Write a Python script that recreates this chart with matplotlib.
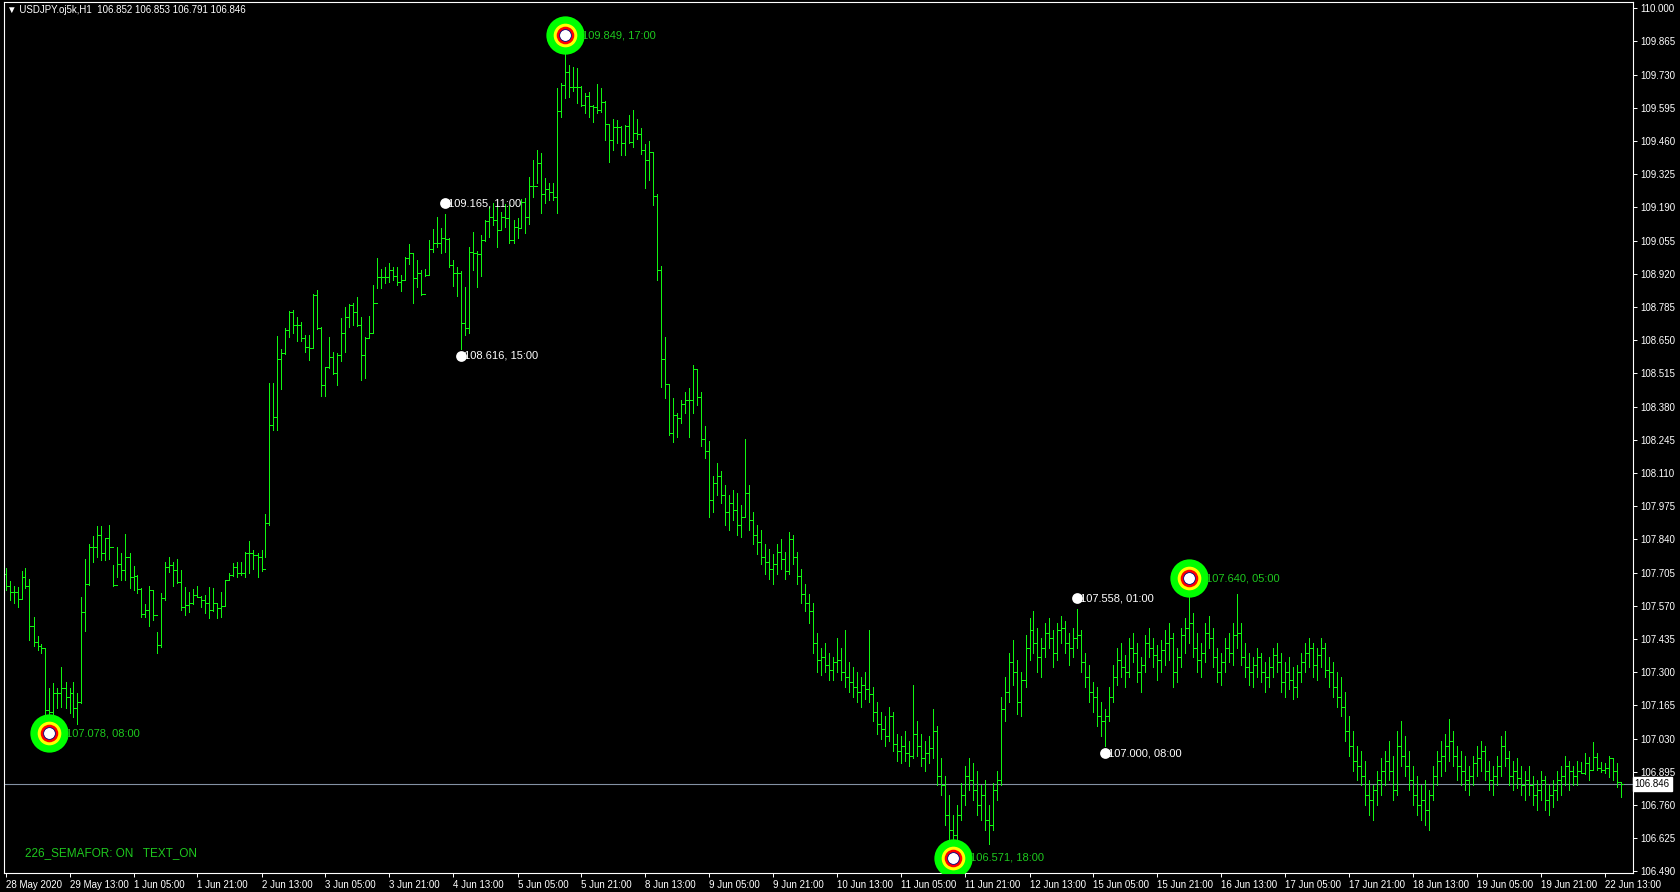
import matplotlib
matplotlib.use("Agg")
import matplotlib.pyplot as plt
import numpy as np

# USDJPY H1 bars, index 0 = 28 May 2020 21:00
highs = [107.722, 107.671, 107.651, 107.645, 107.711, 107.722, 107.678, 107.523, 107.447, 107.415,
         107.397, 107.235, 107.255, 107.235, 107.323, 107.262, 107.235, 107.262, 107.217, 107.607,
         107.759, 107.820, 107.854, 107.894, 107.894, 107.847, 107.898, 107.736, 107.810, 107.783,
         107.862, 107.786, 107.732, 107.695, 107.641, 107.577, 107.651, 107.634, 107.465, 107.623,
         107.749, 107.767, 107.749, 107.759, 107.715, 107.645, 107.626, 107.637, 107.651, 107.610,
         107.614, 107.645, 107.641, 107.577, 107.628, 107.675, 107.705, 107.745, 107.749, 107.749,
         107.790, 107.835, 107.797, 107.786, 107.797, 107.945, 108.475, 108.478, 108.667, 108.613,
         108.698, 108.770, 108.773, 108.746, 108.726, 108.672, 108.672, 108.838, 108.854, 108.705,
         108.543, 108.665, 108.604, 108.597, 108.739, 108.787, 108.797, 108.803, 108.827, 108.746,
         108.665, 108.749, 108.875, 108.983, 108.938, 108.949, 108.963, 108.949, 108.947, 108.915,
         108.990, 109.041, 109.004, 108.976, 108.936, 108.938, 109.058, 109.101, 109.153, 109.105,
         109.165, 109.064, 108.976, 108.949, 108.933, 108.865, 109.031, 109.092, 109.014, 109.078,
         109.139, 109.191, 109.207, 109.193, 109.173, 109.204, 109.200, 109.139, 109.146, 109.223,
         109.227, 109.315, 109.383, 109.424, 109.413, 109.308, 109.291, 109.291, 109.674, 109.698,
         109.849, 109.769, 109.760, 109.756, 109.684, 109.654, 109.661, 109.607, 109.692, 109.674,
         109.624, 109.525, 109.548, 109.546, 109.521, 109.525, 109.566, 109.586, 109.548, 109.512,
         109.448, 109.462, 109.417, 109.245, 108.952, 108.665, 108.472, 108.414, 108.353, 108.407,
         108.441, 108.455, 108.549, 108.532, 108.44, 108.30, 108.24, 108.10, 108.15, 108.12,
         108.06, 108.02, 108.04, 108.03, 107.98, 108.25, 108.06, 107.95, 107.90, 107.88,
         107.82, 107.80, 107.78, 107.82, 107.84, 107.79, 107.87, 107.86, 107.79, 107.72,
         107.66, 107.62, 107.58, 107.46, 107.40, 107.42, 107.38, 107.36, 107.44, 107.40,
         107.47, 107.34, 107.32, 107.30, 107.28, 107.30, 107.47, 107.24, 107.18, 107.14,
         107.12, 107.16, 107.14, 107.05, 107.04, 107.06, 107.02, 107.25, 107.10, 107.05,
         107.02, 107.04, 107.15, 107.08, 106.95, 106.88, 106.80, 106.72, 106.76, 106.85,
         106.92, 106.95, 106.93, 106.90, 106.84, 106.86, 106.76, 106.85, 106.90, 107.20,
         107.28, 107.38, 107.43, 107.35, 107.30, 107.45, 107.52, 107.55, 107.48, 107.44,
         107.50, 107.52, 107.47, 107.50, 107.53, 107.51, 107.46, 107.48, 107.558, 107.47,
         107.38, 107.33, 107.26, 107.24, 107.18, 107.15, 107.24, 107.33, 107.40, 107.42,
         107.37, 107.44, 107.46, 107.42, 107.36, 107.45, 107.48, 107.44, 107.41, 107.43,
         107.47, 107.50, 107.46, 107.40, 107.48, 107.52, 107.640, 107.54, 107.46, 107.42,
         107.50, 107.53, 107.48, 107.40, 107.38, 107.44, 107.46, 107.50, 107.62, 107.50,
         107.42, 107.38, 107.36, 107.40, 107.38, 107.34, 107.36, 107.40, 107.42, 107.38,
         107.34, 107.36, 107.32, 107.33, 107.38, 107.42, 107.44, 107.42, 107.40, 107.44,
         107.42, 107.36, 107.34, 107.30, 107.28, 107.22, 107.12, 107.06, 107.00, 106.98,
         106.94, 106.86, 106.84, 106.90, 106.95, 106.98, 107.02, 106.96, 107.06, 107.10,
         107.04, 106.98, 106.92, 106.88, 106.84, 106.86, 106.82, 106.92, 106.98, 107.02,
         107.05, 107.11, 107.06, 107.00, 106.98, 106.96, 106.92, 106.96, 107.00, 107.02,
         107.00, 106.94, 106.92, 106.96, 107.04, 107.06, 106.98, 106.94, 106.95, 106.92,
         106.90, 106.92, 106.88, 106.86, 106.90, 106.88, 106.84, 106.86, 106.90, 106.92,
         106.96, 106.94, 106.92, 106.94, 106.936, 106.970, 106.957, 107.018, 106.970, 106.936,
         106.929, 106.960, 106.950, 106.929, 106.853]
lows = [107.634, 107.594, 107.580, 107.564, 107.596, 107.641, 107.431, 107.407, 107.390, 107.380,
        107.110, 107.078, 107.100, 107.153, 107.160, 107.153, 107.133, 107.119, 107.090, 107.174,
        107.469, 107.655, 107.749, 107.770, 107.756, 107.756, 107.759, 107.651, 107.688, 107.675,
        107.675, 107.641, 107.634, 107.621, 107.523, 107.526, 107.488, 107.512, 107.380, 107.404,
        107.594, 107.709, 107.651, 107.661, 107.553, 107.533, 107.546, 107.577, 107.607, 107.567,
        107.539, 107.519, 107.550, 107.519, 107.526, 107.569, 107.675, 107.691, 107.686, 107.695,
        107.688, 107.705, 107.718, 107.686, 107.713, 107.770, 107.898, 108.285, 108.285, 108.450,
        108.594, 108.662, 108.678, 108.648, 108.648, 108.604, 108.570, 108.617, 108.695, 108.423,
        108.423, 108.536, 108.513, 108.468, 108.567, 108.604, 108.703, 108.712, 108.708, 108.488,
        108.495, 108.658, 108.678, 108.861, 108.861, 108.882, 108.888, 108.895, 108.875, 108.852,
        108.895, 108.960, 108.803, 108.868, 108.834, 108.911, 108.915, 109.010, 109.028, 109.006,
        109.010, 108.949, 108.871, 108.830, 108.616, 108.671, 108.681, 108.936, 108.865, 108.911,
        109.055, 109.071, 109.119, 109.031, 109.098, 109.112, 109.044, 109.047, 109.064, 109.112,
        109.088, 109.123, 109.234, 109.288, 109.169, 109.207, 109.220, 109.220, 109.166, 109.559,
        109.634, 109.638, 109.665, 109.616, 109.603, 109.576, 109.557, 109.539, 109.576, 109.580,
        109.464, 109.376, 109.424, 109.454, 109.403, 109.403, 109.454, 109.435, 109.467, 109.407,
        109.268, 109.302, 109.200, 108.895, 108.461, 108.414, 108.265, 108.238, 108.258, 108.315,
        108.353, 108.255, 108.353, 108.387, 108.22, 108.17, 107.93, 107.95, 108.02, 107.99,
        107.90, 107.88, 107.92, 107.86, 107.85, 107.93, 107.88, 107.82, 107.78, 107.74,
        107.70, 107.68, 107.66, 107.70, 107.72, 107.68, 107.70, 107.74, 107.66, 107.58,
        107.55, 107.50, 107.38, 107.30, 107.29, 107.30, 107.27, 107.27, 107.30, 107.27,
        107.24, 107.22, 107.20, 107.18, 107.16, 107.19, 107.18, 107.10, 107.05, 107.03,
        107.00, 107.02, 106.98, 106.94, 106.93, 106.94, 106.92, 106.95, 106.96, 106.92,
        106.90, 106.93, 106.95, 106.84, 106.80, 106.68, 106.62, 106.571, 106.62, 106.70,
        106.76, 106.82, 106.78, 106.72, 106.70, 106.66, 106.60, 106.66, 106.78, 106.84,
        107.10, 107.18, 107.25, 107.13, 107.12, 107.24, 107.35, 107.38, 107.30, 107.28,
        107.36, 107.40, 107.32, 107.35, 107.42, 107.38, 107.33, 107.36, 107.40, 107.30,
        107.24, 107.18, 107.14, 107.08, 107.04, 107.000, 107.10, 107.18, 107.25, 107.28,
        107.24, 107.28, 107.34, 107.26, 107.22, 107.30, 107.36, 107.32, 107.27, 107.30,
        107.33, 107.35, 107.24, 107.26, 107.32, 107.38, 107.42, 107.36, 107.30, 107.28,
        107.34, 107.40, 107.32, 107.26, 107.25, 107.30, 107.34, 107.33, 107.40, 107.33,
        107.28, 107.25, 107.24, 107.28, 107.26, 107.22, 107.24, 107.28, 107.30, 107.22,
        107.20, 107.23, 107.19, 107.20, 107.26, 107.30, 107.32, 107.28, 107.27, 107.32,
        107.28, 107.24, 107.20, 107.16, 107.12, 107.02, 106.96, 106.90, 106.86, 106.84,
        106.76, 106.72, 106.70, 106.76, 106.80, 106.84, 106.86, 106.78, 106.80, 106.92,
        106.88, 106.82, 106.76, 106.72, 106.70, 106.68, 106.66, 106.78, 106.84, 106.88,
        106.90, 106.94, 106.92, 106.86, 106.84, 106.82, 106.80, 106.84, 106.88, 106.90,
        106.86, 106.82, 106.80, 106.84, 106.88, 106.92, 106.84, 106.82, 106.83, 106.80,
        106.78, 106.80, 106.76, 106.74, 106.78, 106.74, 106.72, 106.75, 106.78, 106.80,
        106.84, 106.82, 106.84, 106.84, 106.889, 106.885, 106.862, 106.902, 106.902, 106.895,
        106.889, 106.875, 106.862, 106.835, 106.791]
closes = [107.651, 107.628, 107.628, 107.598, 107.688, 107.651, 107.488, 107.424, 107.407, 107.397,
          107.146, 107.140, 107.214, 107.214, 107.235, 107.201, 107.214, 107.153, 107.180, 107.546,
          107.657, 107.810, 107.810, 107.858, 107.786, 107.844, 107.810, 107.655, 107.742, 107.715,
          107.770, 107.686, 107.691, 107.637, 107.537, 107.553, 107.634, 107.533, 107.411, 107.600,
          107.729, 107.736, 107.715, 107.668, 107.567, 107.573, 107.580, 107.614, 107.607, 107.594,
          107.583, 107.553, 107.580, 107.560, 107.569, 107.675, 107.695, 107.729, 107.705, 107.702,
          107.786, 107.786, 107.776, 107.770, 107.718, 107.905, 108.305, 108.339, 108.572, 108.600,
          108.692, 108.766, 108.712, 108.712, 108.658, 108.621, 108.620, 108.834, 108.700, 108.468,
          108.540, 108.583, 108.518, 108.590, 108.681, 108.746, 108.793, 108.766, 108.712, 108.590,
          108.658, 108.681, 108.800, 108.909, 108.906, 108.906, 108.936, 108.911, 108.888, 108.895,
          108.983, 109.004, 108.902, 108.922, 108.838, 108.915, 109.022, 109.047, 109.047, 109.064,
          109.060, 108.956, 108.922, 108.922, 108.719, 108.699, 109.010, 109.004, 109.001, 109.058,
          109.136, 109.153, 109.139, 109.098, 109.153, 109.146, 109.058, 109.112, 109.105, 109.214,
          109.150, 109.277, 109.277, 109.372, 109.245, 109.264, 109.254, 109.234, 109.582, 109.688,
          109.742, 109.681, 109.681, 109.681, 109.607, 109.643, 109.603, 109.600, 109.586, 109.620,
          109.529, 109.464, 109.516, 109.516, 109.451, 109.521, 109.458, 109.492, 109.489, 109.424,
          109.383, 109.417, 109.237, 108.936, 108.572, 108.472, 108.271, 108.346, 108.332, 108.391,
          108.407, 108.407, 108.532, 108.421, 108.25, 108.20, 108.00, 108.07, 108.10, 108.02,
          107.95, 107.99, 107.96, 107.90, 107.93, 108.03, 107.92, 107.86, 107.83, 107.77,
          107.75, 107.72, 107.74, 107.79, 107.76, 107.71, 107.84, 107.77, 107.69, 107.62,
          107.58, 107.55, 107.42, 107.35, 107.36, 107.33, 107.31, 107.34, 107.35, 107.30,
          107.28, 107.26, 107.24, 107.22, 107.25, 107.23, 107.21, 107.14, 107.09, 107.07,
          107.04, 107.12, 107.01, 106.98, 107.00, 106.97, 106.96, 107.05, 107.00, 106.95,
          106.97, 106.99, 107.06, 106.88, 106.84, 106.72, 106.66, 106.64, 106.72, 106.80,
          106.88, 106.86, 106.82, 106.76, 106.80, 106.70, 106.68, 106.82, 106.86, 107.15,
          107.22, 107.34, 107.30, 107.18, 107.27, 107.40, 107.47, 107.42, 107.36, 107.40,
          107.46, 107.44, 107.38, 107.47, 107.48, 107.42, 107.40, 107.44, 107.45, 107.34,
          107.28, 107.22, 107.20, 107.12, 107.10, 107.12, 107.20, 107.28, 107.35, 107.32,
          107.30, 107.40, 107.38, 107.30, 107.33, 107.42, 107.40, 107.37, 107.35, 107.39,
          107.42, 107.44, 107.30, 107.36, 107.45, 107.48, 107.50, 107.40, 107.35, 107.38,
          107.46, 107.44, 107.36, 107.30, 107.34, 107.40, 107.38, 107.45, 107.46, 107.36,
          107.32, 107.30, 107.33, 107.36, 107.30, 107.28, 107.32, 107.37, 107.34, 107.26,
          107.30, 107.27, 107.24, 107.30, 107.34, 107.38, 107.40, 107.33, 107.37, 107.40,
          107.31, 107.30, 107.24, 107.20, 107.16, 107.06, 107.00, 106.94, 106.92, 106.88,
          106.80, 106.78, 106.82, 106.86, 106.90, 106.94, 106.90, 106.82, 107.00, 106.96,
          106.92, 106.86, 106.80, 106.76, 106.78, 106.74, 106.80, 106.88, 106.94, 106.96,
          107.00, 107.02, 106.96, 106.92, 106.90, 106.86, 106.88, 106.93, 106.95, 106.98,
          106.90, 106.86, 106.88, 106.92, 107.00, 106.95, 106.88, 106.90, 106.87, 106.84,
          106.86, 106.84, 106.80, 106.82, 106.86, 106.78, 106.80, 106.82, 106.86, 106.88,
          106.92, 106.90, 106.88, 106.90, 106.889, 106.930, 106.902, 106.957, 106.909, 106.902,
          106.909, 106.950, 106.900, 106.852, 106.846]
first_open = 107.700
# fx bars open where the previous one closed
opens = [first_open] + closes[:-1]

time_labels = ["28 May 2020", "29 May 13:00", "1 Jun 05:00", "1 Jun 21:00", "2 Jun 13:00",
               "3 Jun 05:00", "3 Jun 21:00", "4 Jun 13:00", "5 Jun 05:00", "5 Jun 21:00",
               "8 Jun 13:00", "9 Jun 05:00", "9 Jun 21:00", "10 Jun 13:00", "11 Jun 05:00",
               "11 Jun 21:00", "12 Jun 13:00", "15 Jun 05:00", "15 Jun 21:00", "16 Jun 13:00",
               "17 Jun 05:00", "17 Jun 21:00", "18 Jun 13:00", "19 Jun 05:00", "19 Jun 21:00",
               "22 Jun 13:00"]
time_pos = [0, 16, 32, 48, 64, 80, 96, 112, 128, 144, 160, 176, 192, 208, 224,
            240, 256, 272, 288, 304, 320, 336, 352, 368, 384, 400]
price_ticks = [106.490, 106.625, 106.760, 106.895, 107.030, 107.165, 107.300, 107.435,
               107.570, 107.705, 107.840, 107.975, 108.110, 108.245, 108.380, 108.515,
               108.650, 108.785, 108.920, 109.055, 109.190, 109.325, 109.460, 109.595,
               109.730, 109.865, 110.000]

# semafor signals: big (level 3) and small (level 2)
big_idx = [11, 140, 237, 296]
big_price = [107.078, 109.849, 106.571, 107.640]
big_high = [False, True, False, True]
big_time = ["08:00", "17:00", "18:00", "05:00"]
small_idx = [110, 114, 268, 275]
small_price = [109.165, 108.616, 107.558, 107.000]
small_high = [True, False, True, False]
small_time = ["11:00", "15:00", "01:00", "08:00"]

last_price = 106.846
header = "\u25bc USDJPY.oj5k,H1  106.852 106.853 106.791 106.846"

bar_c = "#10f510"
txt_green = "#1ec81e"
fam = ["Liberation Sans", "DejaVu Sans"]

W, H = 1680, 892
fig = plt.figure(figsize=(W / 100, H / 100), dpi=100, facecolor="black")
ax = fig.add_axes([4 / W, 19 / H, 1629 / W, 871 / H])
ax.set_facecolor("black")

x = np.arange(len(highs))
ax.vlines(x, lows, highs, color=bar_c, lw=0.6, antialiased=False)
ax.hlines(opens, x - 0.3, x, color=bar_c, lw=0.6, antialiased=False)
ax.hlines(closes, x, x + 0.3, color=bar_c, lw=0.6, antialiased=False)

ax.set_xlim(-0.375, 406.875)
ax.set_ylim(106.4835, 110.0256)

for s in ax.spines.values():
    s.set_color("white")
    s.set_linewidth(0.8)

ax.yaxis.tick_right()
ax.set_yticks(price_ticks)
ax.set_yticklabels([f"{v:.3f}" for v in price_ticks])
ax.tick_params(axis="y", colors="white", length=3, width=0.7, labelsize=7, pad=2)
ax.set_xticks(time_pos)
ax.set_xticklabels(time_labels)
ax.tick_params(axis="x", colors="white", length=3, width=0.7, labelsize=7, pad=2)
for lbl in ax.get_xticklabels() + ax.get_yticklabels():
    lbl.set_family(fam)
for lbl in ax.get_xticklabels():
    lbl.set_ha("left")

# current price line and its label
ax.axhline(last_price, color="#8391a3", lw=0.8, zorder=1)
ax.text(1.001, last_price, f"{last_price:.3f}", transform=ax.get_yaxis_transform(),
        ha="left", va="center", fontsize=7, color="black", family=fam,
        bbox=dict(boxstyle="square,pad=0.2", fc="white", ec="white"), clip_on=False)

# big semafor rings
for i, p, hi, t in zip(big_idx, big_price, big_high, big_time):
    y = p + 0.042 if hi else p - 0.026
    ax.scatter([i], [y], s=760, c="#00ff00", lw=0, zorder=5)
    ax.scatter([i], [y], s=290, c="#ffff00", lw=0, zorder=6)
    ax.scatter([i], [y], s=160, c="#ff0000", lw=0, zorder=7)
    ax.scatter([i], [y], s=72, c="white", edgecolors="#000080", lw=0.6, zorder=8)
    ax.annotate(f"{p:.3f}, {t}", (i, y), xytext=(17, 0), textcoords="offset pixels",
                ha="left", va="center", color=txt_green, fontsize=8, family=fam, zorder=9)

# small semafor dots
for i, p, hi, t in zip(small_idx, small_price, small_high, small_time):
    y = p + 0.042 if hi else p - 0.03
    ax.scatter([i], [y], s=60, c="white", lw=0, zorder=5)
    ax.annotate(f"{p:.3f}, {t}", (i, y), xytext=(3, 0), textcoords="offset pixels",
                ha="left", va="center", color="white", fontsize=8, family=fam, zorder=9)

fig.text(7 / W, 1 - 10 / H, header, color="white", fontsize=7, family=fam, ha="left", va="center")
fig.text(25 / W, 1 - 853 / H, "226_SEMAFOR: ON   TEXT_ON", color=txt_green, fontsize=8.5,
         family=fam, ha="left", va="center")

fig.savefig("out.png", dpi=100, facecolor="black")
